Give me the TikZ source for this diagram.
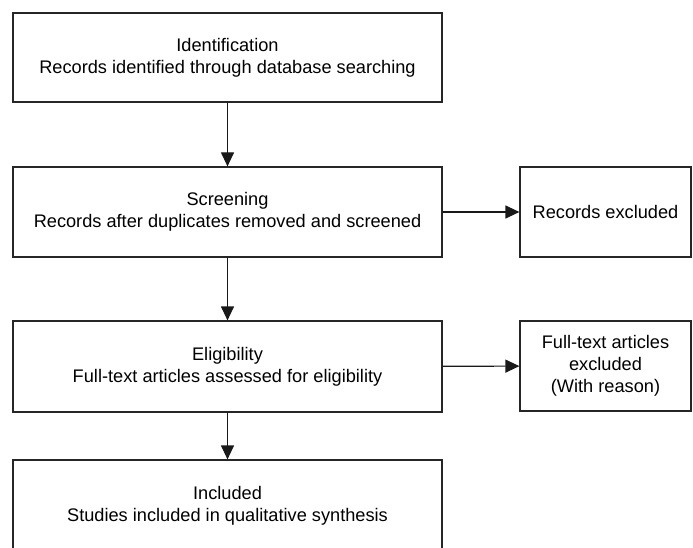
\documentclass[tikz,border=0pt]{standalone}
\usepackage{fontspec}
\setmainfont{Liberation Sans}
\usetikzlibrary{arrows.meta}
\begin{document}
\begin{tikzpicture}[x=1pt,y=-1pt,
  box/.style={draw=black!85,line width=1.2pt,align=center,inner sep=0pt,font=\fontsize{18.2}{22}\selectfont},
  arr/.style={draw=black!90,line width=1.2pt,-{Triangle[length=14pt,width=13pt]}}]
\useasboundingbox (0,0) rectangle (693,548);
\clip (0,0) rectangle (693,548);
\node[box,minimum width=429pt,minimum height=89pt] (id) at (227.5,57.5) {Identification\\Records identified through database searching};
\node[box,minimum width=429pt,minimum height=90pt] (sc) at (227.5,212) {Screening\\Records after duplicates removed and screened};
\node[box,minimum width=171pt,minimum height=90pt] (rex) at (605.5,212) {Records excluded};
\node[box,minimum width=429pt,minimum height=91pt] (el) at (227.5,366.5) {Eligibility\\Full-text articles assessed for eligibility};
\node[box,minimum width=171pt,minimum height=90pt] (fex) at (605.5,366) {Full-text articles\\excluded\\(With reason)};
\node[box,minimum width=429pt,minimum height=92pt] (inc) at (227.5,506) {Included\\Studies included in qualitative synthesis};
\draw[arr] (id) -- (sc);
\draw[arr] (sc) -- (rex);
\draw[arr] (sc) -- (el);
\draw[arr] (el) -- (fex);
\draw[arr] (el) -- (inc);
\end{tikzpicture}
\end{document}
